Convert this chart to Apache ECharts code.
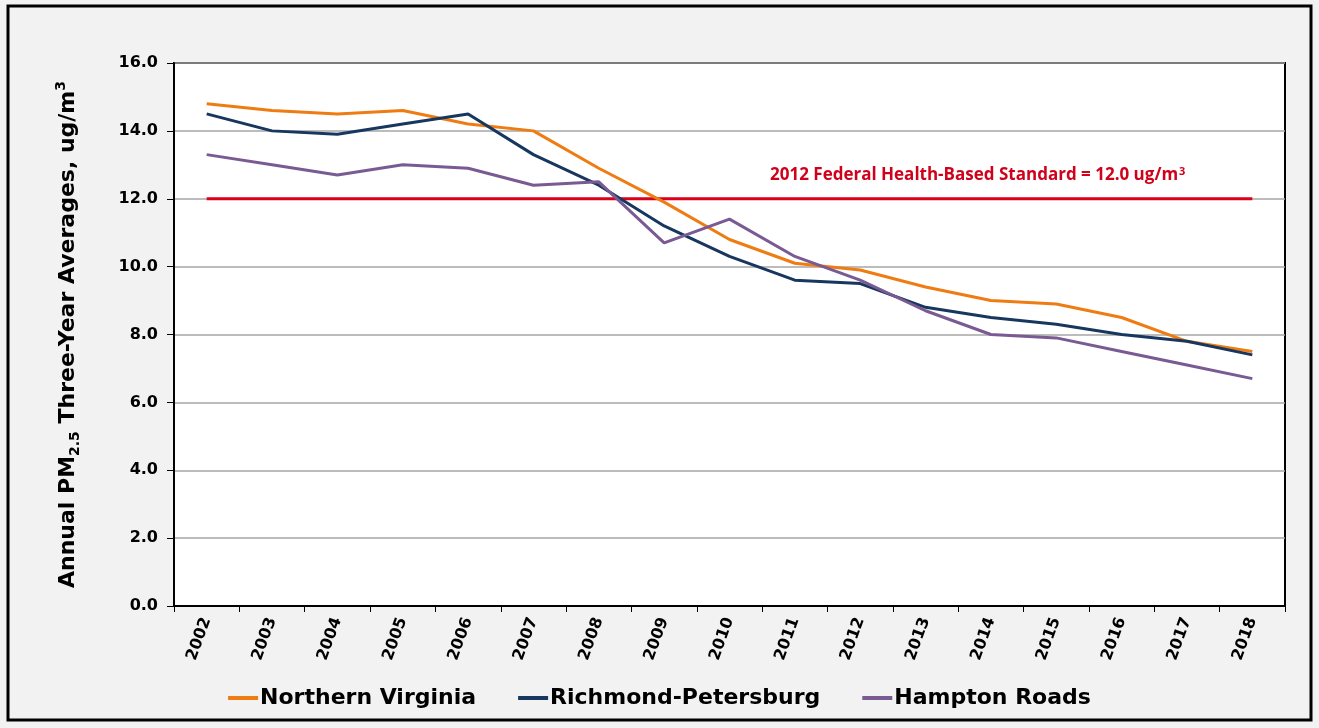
<!DOCTYPE html>
<html>
<head>
<meta charset="utf-8">
<script src="https://cdn.jsdelivr.net/npm/echarts@6/dist/echarts.min.js"></script>
<style>
  html, body { margin: 0; padding: 0; background: #f2f2f2; }
  #main { width: 1319px; height: 728px; }
</style>
</head>
<body>
<div id="main"></div>
<script>
// data
var years = ['2002', '2003', '2004', '2005', '2006', '2007', '2008', '2009', '2010',
    '2011', '2012', '2013', '2014', '2015', '2016', '2017', '2018'];
var northernVirginia = [14.8, 14.6, 14.5, 14.6, 14.2, 14.0, 12.9, 11.9, 10.8, 10.1, 9.9, 9.4, 9.0, 8.9, 8.5, 7.8, 7.5];
var richmondPetersburg = [14.5, 14.0, 13.9, 14.2, 14.5, 13.3, 12.4, 11.2, 10.3, 9.6, 9.5, 8.8, 8.5, 8.3, 8.0, 7.8, 7.4];
var hamptonRoads = [13.3, 13.0, 12.7, 13.0, 12.9, 12.4, 12.5, 10.7, 11.4, 10.3, 9.6, 8.7, 8.0, 7.9, 7.5, 7.1, 6.7];
var standard = [12.0, 12.0, 12.0, 12.0, 12.0, 12.0, 12.0, 12.0, 12.0, 12.0, 12.0, 12.0, 12.0, 12.0, 12.0, 12.0, 12.0];
var yTicks = [0, 2, 4, 6, 8, 10, 12, 14, 16];

var chart = echarts.init(document.getElementById('main'));
var bold = 'DejaVu Sans';

function lineSeries(name, data, color) {
    return {
        name: name,
        type: 'line',
        data: data,
        symbol: 'none',
        lineStyle: { color: color, width: 3 },
        itemStyle: { color: color },
        z: 3
    };
}

var option = {
    backgroundColor: '#f2f2f2',
    textStyle: { fontFamily: bold },
    graphic: [{
        type: 'rect',
        shape: { x: 8, y: 6, width: 1303, height: 714 },
        style: { fill: 'none', stroke: '#000', lineWidth: 3 },
        z: 100
    }, {
        type: 'text',
        left: 770,
        top: 166,
        style: {
            text: '{t|2012 Federal Health-Based Standard = 12.0 ug/m}{p|3}',
            rich: {
                t: { fontSize: 17, fontWeight: 'bold', fill: '#d0021b', fontFamily: 'Open Sans' },
                p: { fontSize: 11, fontWeight: 'bold', fill: '#d0021b', fontFamily: 'Open Sans', verticalAlign: 'top', padding: [0, 0, 8, 1] }
            }
        },
        z: 10
    }],
    grid: {
        left: 174, top: 63, right: 34, bottom: 122,
        show: true,
        backgroundColor: '#fff',
        borderColor: '#000',
        borderWidth: 2
    },
    legend: {
        bottom: 14,
        left: 'center',
        icon: 'rect',
        itemWidth: 30,
        itemHeight: 4,
        itemGap: 42,
        data: ['Northern Virginia', 'Richmond-Petersburg', 'Hampton Roads'],
        textStyle: { fontSize: 22, fontWeight: 'bold', color: '#000', fontFamily: bold, padding: [0, 0, 0, -3] }
    },
    xAxis: {
        type: 'category',
        data: years,
        boundaryGap: true,
        axisLine: { lineStyle: { color: '#000', width: 2 } },
        axisTick: { show: true, length: 6, lineStyle: { color: '#000', width: 1 } },
        axisLabel: {
            rotate: 70,
            margin: 12,
            fontSize: 16,
            fontWeight: 'bold',
            fontFamily: bold,
            color: '#000'
        }
    },
    yAxis: {
        type: 'value',
        min: 0,
        max: 16,
        interval: 2,
        name: '{b|Annual PM}{s|2.5}{b| Three-Year Averages, ug/m}{p|3}',
        nameLocation: 'middle',
        nameGap: 92,
        nameRotate: 90,
        nameTextStyle: {
            rich: {
                b: { fontSize: 22, fontWeight: 'bold', color: '#000', fontFamily: bold },
                s: { fontSize: 14, fontWeight: 'bold', color: '#000', fontFamily: bold, verticalAlign: 'bottom', padding: [14, 0, 0, 0] },
                p: { fontSize: 14, fontWeight: 'bold', color: '#000', fontFamily: bold, verticalAlign: 'top', padding: [0, 0, 12, 0] }
            }
        },
        axisLine: { show: true, lineStyle: { color: '#000', width: 2 } },
        axisTick: { show: true, length: 7, lineStyle: { color: '#000', width: 1 } },
        splitLine: { lineStyle: { color: '#a6a6a6', width: 1.5 } },
        axisLabel: {
            fontSize: 16,
            fontWeight: 'bold',
            fontFamily: bold,
            color: '#000',
            margin: 16,
            formatter: function (v) { return yTicks.indexOf(v) >= 0 ? v.toFixed(1) : ''; }
        }
    },
    series: [
        lineSeries('Northern Virginia', northernVirginia, '#ef7c12'),
        lineSeries('Richmond-Petersburg', richmondPetersburg, '#17375e'),
        lineSeries('Hampton Roads', hamptonRoads, '#7a5a93'),
        {
            name: 'Standard',
            type: 'line',
            data: standard,
            symbol: 'none',
            lineStyle: { color: '#d9001b', width: 3 },
            z: 2
        }
    ]
};

chart.setOption(option);
</script>
</body>
</html>
